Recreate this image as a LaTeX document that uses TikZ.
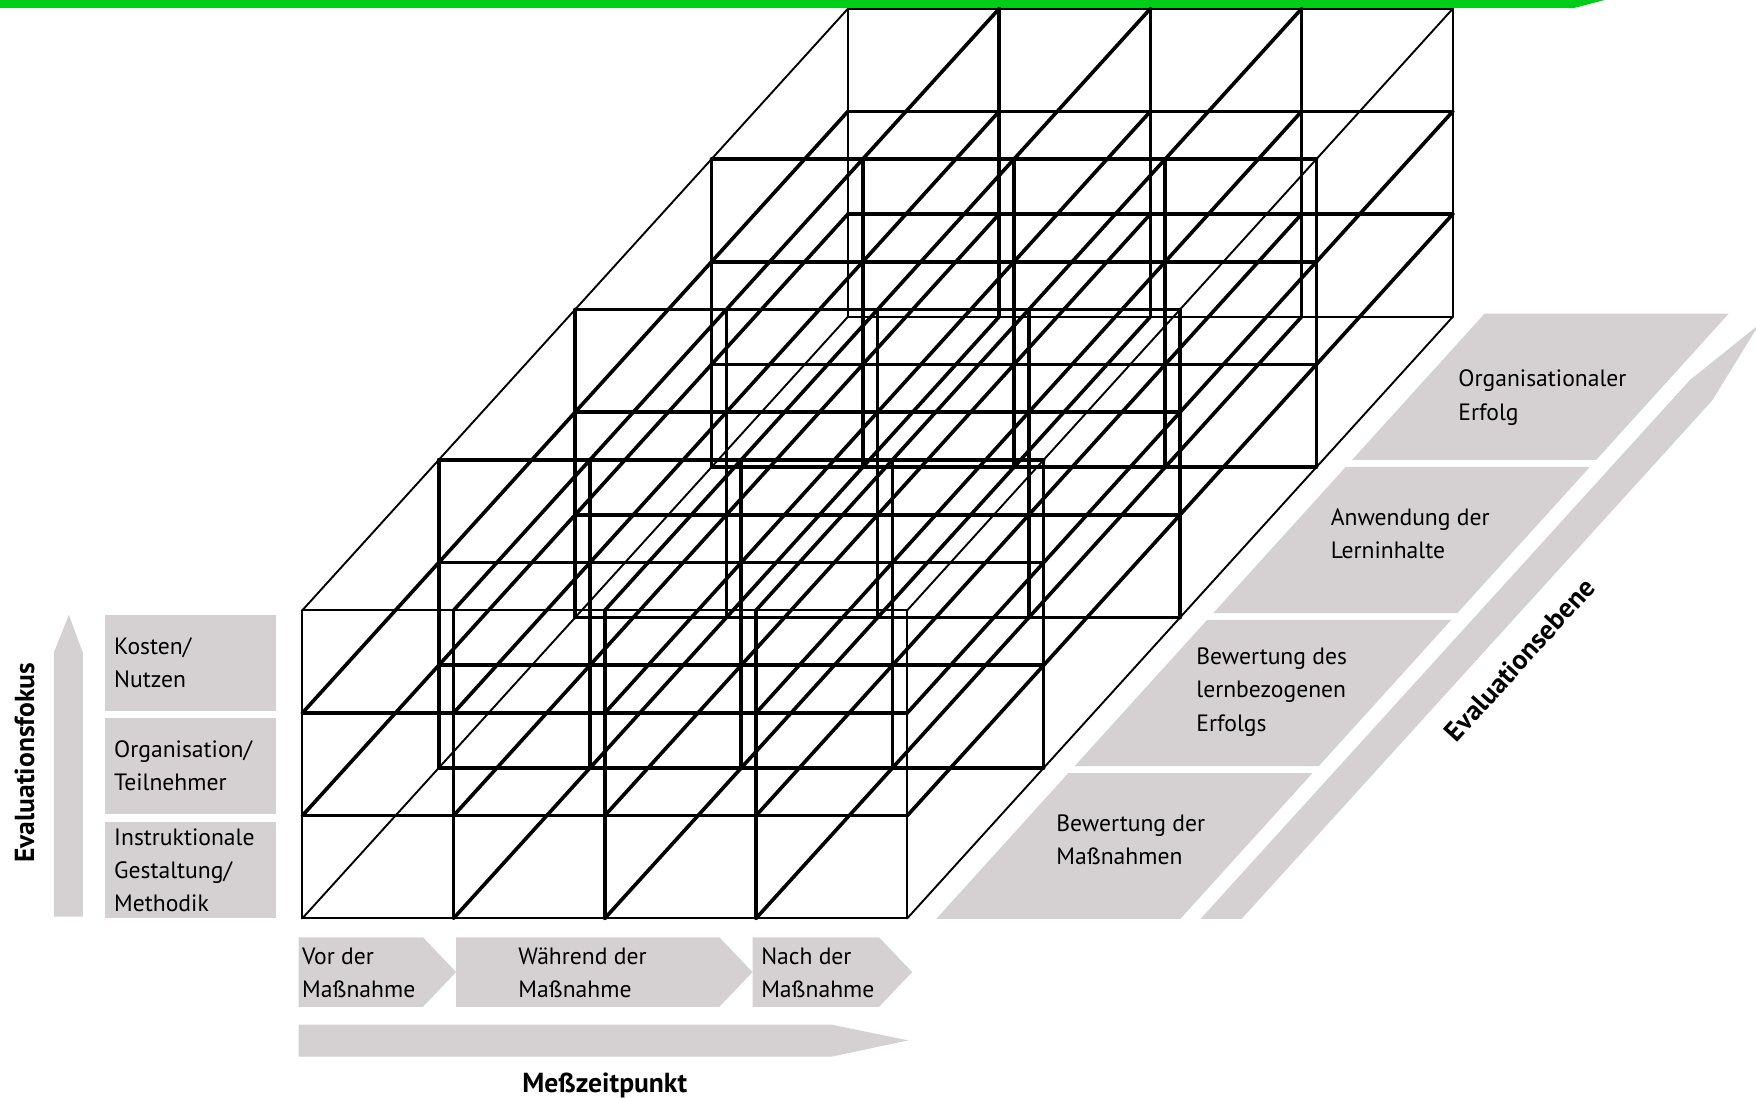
\documentclass[tikz,border=0pt]{standalone}
\usepackage{fontspec}
\setmainfont{PT Sans}
\usepackage{xcolor}
\definecolor{bandgreen}{RGB}{0,204,26}
\definecolor{boxgray}{RGB}{213,209,211}
\tikzset{
	plaintext/.style={font=\fontsize{15}{21}\selectfont, align=left, anchor=west, inner sep=0pt},
	headtext/.style={font=\fontsize{17.5}{21}\selectfont\bfseries, inner sep=0pt},
	fokusbox/.style={fill=boxgray, font=\fontsize{15}{21}\selectfont, align=left,
			minimum width=3.8cm, minimum height=2.15cm, text width=3.4cm,
			inner xsep=0.2cm, inner ysep=0pt}
}

\begin{document}
\begin{tikzpicture}[x=0.025cm, y=-0.025cm]
	% Fix the size of the page
	\useasboundingbox (0,0) rectangle (1568,980);

	% Draw the green band at the top (cut off)
	\fill[bandgreen] (0,0) -- (1433,0) -- (1406,7) -- (0,7) -- cycle;

	% Draw the focus arrow and its three boxes
	\fill[boxgray] (48,818.5) -- (48,583) -- (61.5,549) -- (74,583) -- (74,818.5) -- cycle;
	\node[headtext, rotate=90] (fokus) at (22,681) {Evaluationsfokus};
	\node[fokusbox] (kosten) at (170,592) {Kosten/\\Nutzen};
	\node[fokusbox] (organisation) at (170,684) {Organisation/\\Teilnehmer};
	\node[fokusbox] (methodik) at (170,777) {Instruktionale\\Gestaltung/\\Methodik};

	% Draw the three time steps
	\fill[boxgray] (266.7,837) -- (377.7,837) -- (407.3,868) -- (377.7,899) -- (266.7,899) -- cycle;
	\fill[boxgray] (407.3,837) -- (642.4,837) -- (672,868) -- (642.4,899) -- (407.3,899) -- cycle;
	\fill[boxgray] (672,837) -- (785,837) -- (814.5,868) -- (785,899) -- (672,899) -- cycle;
	\node[plaintext] (vor) at (269.5,869) {Vor der\\Maßnahme};
	\node[plaintext] (waehrend) at (462.6,869) {Während der\\Maßnahme};
	\node[plaintext] (nach) at (679.5,869) {Nach der\\Maßnahme};

	% Draw the time arrow
	\fill[boxgray] (266.7,915) -- (742.7,915) -- (811,929) -- (742.7,943.5) -- (266.7,943.5) -- cycle;
	\node[headtext] (zeit) at (540,969) {Meßzeitpunkt};

	% Draw the four levels as slanted boxes
	\foreach \ytop/\ybot in {280/410.6, 416.8/547.4, 553.6/684.2, 690.4/820.5}
		\fill[boxgray] ({836+0.906*(820.5-\ybot)},\ybot) -- ++(218,0)
			-- ({1054+0.906*(820.5-\ytop)},\ytop) -- ++(-218,0) -- cycle;
	\node[plaintext] (erfolg) at (1302,355) {Organisationaler\\Erfolg};
	\node[plaintext] (anwendung) at (1188,477) {Anwendung der\\Lerninhalte};
	\node[plaintext] (lernerfolg) at (1068,618) {Bewertung des\\lernbezogenen\\Erfolgs};
	\node[plaintext] (massnahmen) at (943,750) {Bewertung der\\Maßnahmen};

	% Draw the level arrow
	\fill[boxgray] (1072,820.5) -- (1509,339.3) -- (1570.5,290) -- (1529,357.5) -- (1108.7,820.5) -- cycle;
	\node[headtext, rotate=47.8] (ebene) at (1357,589) {Evaluationsebene};

	% Draw the grid of cubes, 4 wide, 3 high and 4 deep (outer edges thinner)
	\begin{scope}[shift={(270,820)}, x={(3.375cm,0cm)}, y={(0cm,2.2917cm)}, z={(3.04375cm,3.35625cm)}, line cap=round]
		% lines along the width
		\foreach \k in {0,...,4}
			\foreach \j in {0,...,3}{
				\pgfmathsetmacro\lw{((\j==0 || \j==3) && (\k==0 || \k==4)) ? 1.2 : 2.3}
				\draw[line width=\lw pt] (0,\j,\k) -- (4,\j,\k);
			}
		% upright lines
		\foreach \k in {0,...,4}
			\foreach \i in {0,...,4}{
				\pgfmathsetmacro\lw{((\i==0 || \i==4) && (\k==0 || \k==4)) ? 1.2 : 2.3}
				\draw[line width=\lw pt] (\i,0,\k) -- (\i,3,\k);
			}
		% lines into the depth
		\foreach \i in {0,...,4}
			\foreach \j in {0,...,3}{
				\pgfmathsetmacro\lw{((\i==0 || \i==4) && (\j==0 || \j==3)) ? 1.2 : 2.3}
				\draw[line width=\lw pt] (\i,\j,0) -- (\i,\j,4);
			}
	\end{scope}
\end{tikzpicture}
\end{document}
